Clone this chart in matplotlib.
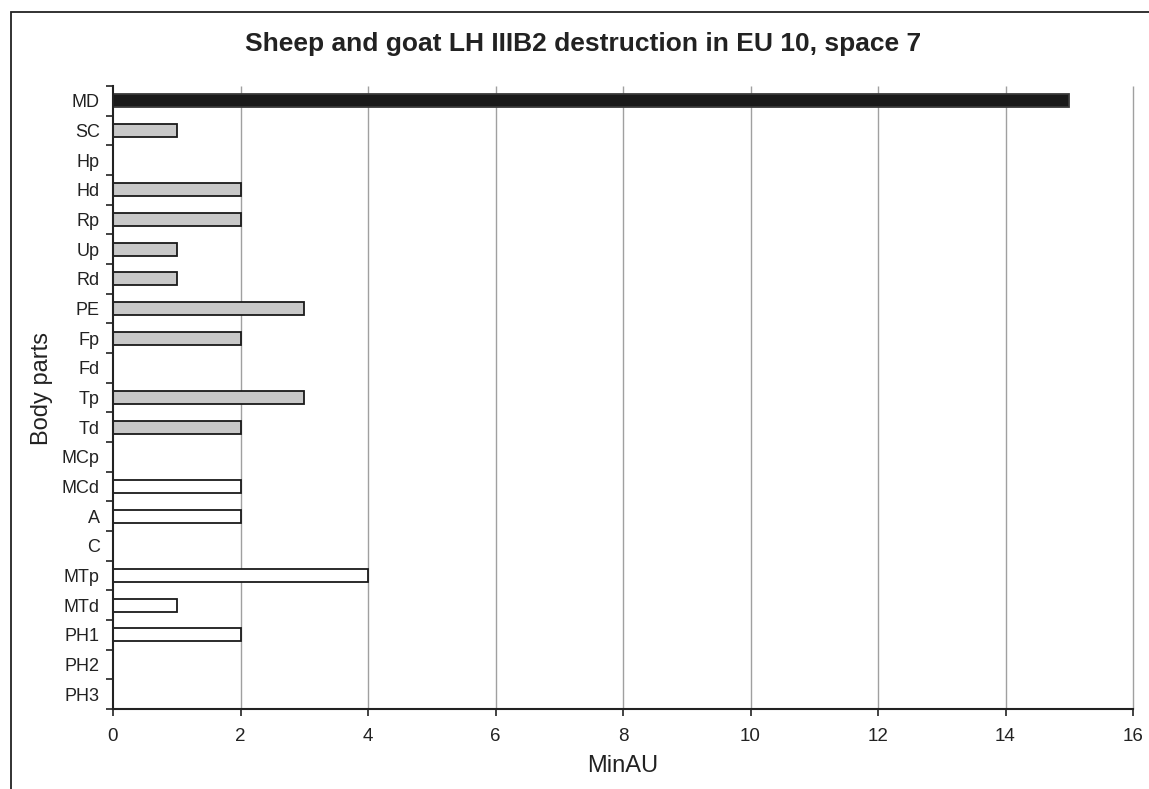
import matplotlib
matplotlib.use("Agg")
import matplotlib.pyplot as plt
from matplotlib.patches import Rectangle
import numpy as np

categories = ["MD", "SC", "Hp", "Hd", "Rp", "Up", "Rd", "PE", "Fp", "Fd", "Tp", "Td",
              "MCp", "MCd", "A", "C", "MTp", "MTd", "PH1", "PH2", "PH3"]
values = [15, 1, 0, 2, 2, 1, 1, 3, 2, 0, 3, 2, 0, 2, 2, 0, 4, 1, 2, 0, 0]
groups = ["head", "fore", "fore", "fore", "fore", "fore", "fore", "hind", "hind", "hind", "hind", "hind",
          "feet", "feet", "feet", "feet", "feet", "feet", "feet", "feet", "feet"]
group_colors = {"head": "#1a1a1a", "fore": "#c8c8c8", "hind": "#c8c8c8", "feet": "#ffffff"}
x_ticks = [0, 2, 4, 6, 8, 10, 12, 14, 16]

plt.rcParams['font.family'] = ['Liberation Sans', 'DejaVu Sans']

fig = plt.figure(figsize=(11.49, 7.89), dpi=100)
ax = fig.add_axes([113/1149, 1 - 709/789, (1133 - 113)/1149, (709 - 86)/789])

# frame around the chart area (cropped on right/bottom)
fig.patches.append(Rectangle((11/1149, -0.05), 1.2, 1 - 12/789 + 0.05, transform=fig.transFigure,
                             fill=False, edgecolor="#222222", linewidth=1.3))

n = len(categories)
y = np.arange(n)
colors = [group_colors[g] for g in groups]
for i, (v, c) in enumerate(zip(values, colors)):
    if v <= 0:
        continue
    ec = "#3a3a3a" if c == "#1a1a1a" else "#1a1a1a"
    ax.barh(y[i], v, height=0.44, color=c, edgecolor=ec, linewidth=1.3, zorder=3)

ax.set_ylim(n - 0.5, -0.5)
ax.set_xlim(0, 16)
ax.vlines(x_ticks[1:], -0.5, n - 0.5, colors="#a0a0a0", linewidth=1.0, zorder=1, clip_on=False)
ax.set_xticks(x_ticks)
ax.set_xticklabels([str(t) for t in x_ticks])
ax.set_yticks(y)
ax.set_yticklabels(categories)
ax.set_yticks(np.arange(n + 1) - 0.5, minor=True)
ax.tick_params(axis='y', which='major', length=0, pad=9.5, labelsize=13, labelcolor="#222222")
ax.tick_params(axis='y', which='minor', length=5, width=1.2, direction='out', color="#222222")
ax.tick_params(axis='x', which='major', length=5, width=1.2, direction='out', pad=9,
               labelsize=13.5, labelcolor="#222222", color="#222222")
for s in ["top", "right"]:
    ax.spines[s].set_visible(False)
for s in ["left", "bottom"]:
    ax.spines[s].set_linewidth(1.5)
    ax.spines[s].set_color("#222222")
    ax.spines[s].set_zorder(4)

fig.text(623/1149, 1 - 766/789, "MinAU", ha="center", va="center", fontsize=17, color="#222222")
fig.text(42/1149, 1 - 389/789, "Body parts", ha="center", va="center", rotation=90,
         fontsize=17, color="#222222")
fig.text(583/1149, 1 - 44/789, "Sheep and goat LH IIIB2 destruction in EU 10, space 7",
         ha="center", va="center", fontsize=19, fontweight="bold", color="#222222")

fig.savefig("out.png", dpi=100)
